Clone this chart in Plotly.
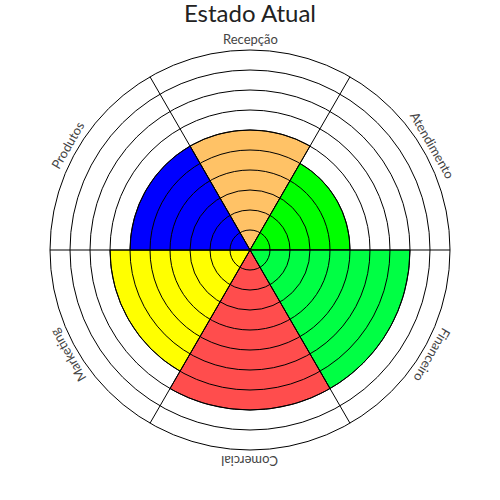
import math
import plotly.graph_objects as go

categories = ["Recepção", "Atendimento", "Financeiro", "Comercial", "Marketing", "Produtos"]
values = [6, 5, 8, 8, 7, 6]
colors = ["#FFC266", "#00FF00", "#00FF44", "#FF4D4D", "#FFFF00", "#0000FF"]
r_max = 10

fig = go.Figure()
fig.add_trace(go.Barpolar(
    r=values, theta=categories, marker=dict(color=colors, line=dict(color="black", width=1)),
    subplot="polar", showlegend=False, hoverinfo="r+theta",
))
# empty trace to activate the grid overlay subplot
fig.add_trace(go.Scatterpolar(r=[0], theta=[0], mode="markers", marker=dict(size=0.1, opacity=0),
                              subplot="polar2", showlegend=False, hoverinfo="skip"))

font_family = "Lato, Open Sans, sans-serif"
annotations = []
n = len(categories)
label_r = 211 / 400
for i, c in enumerate(categories):
    a = math.radians(90 - 360 / n * i)
    annotations.append(dict(
        x=0.5 + label_r * math.cos(a), y=0.5 + label_r * math.sin(a),
        xref="paper", yref="paper", text=c, showarrow=False,
        textangle=360 / n * i, xanchor="center", yanchor="middle",
        font=dict(family=font_family, size=13, color="#444"),
    ))

fig.update_layout(
    width=500, height=500,
    margin=dict(l=50, r=50, t=50, b=50),
    paper_bgcolor="white",
    title=dict(text="Estado Atual", x=0.5, xanchor="center", y=0.973, yanchor="middle",
               yref="container", font=dict(family=font_family, size=24, color="#222")),
    polar=dict(
        domain=dict(x=[0, 1], y=[0, 1]),
        bgcolor="white",
        bargap=0,
        angularaxis=dict(rotation=90, direction="clockwise", showgrid=False, showline=False,
                         showticklabels=False, ticks=""),
        radialaxis=dict(range=[0, r_max], showgrid=False, showline=False, showticklabels=False, ticks=""),
    ),
    polar2=dict(
        domain=dict(x=[0, 1], y=[0, 1]),
        bgcolor="rgba(0,0,0,0)",
        angularaxis=dict(type="linear", rotation=0, direction="counterclockwise",
                         tickmode="array", tickvals=[0, 60, 120, 180, 240, 300],
                         showgrid=True, gridcolor="black", gridwidth=1,
                         showline=True, linecolor="black", linewidth=1,
                         showticklabels=False, ticks=""),
        radialaxis=dict(range=[0, r_max], dtick=1, tick0=0, showgrid=True, gridcolor="black", gridwidth=1,
                        showline=False, showticklabels=False, ticks=""),
    ),
    annotations=annotations,
)

fig.write_html("out.html", config={"displayModeBar": False},
               post_script="document.body.style.margin='0';")
